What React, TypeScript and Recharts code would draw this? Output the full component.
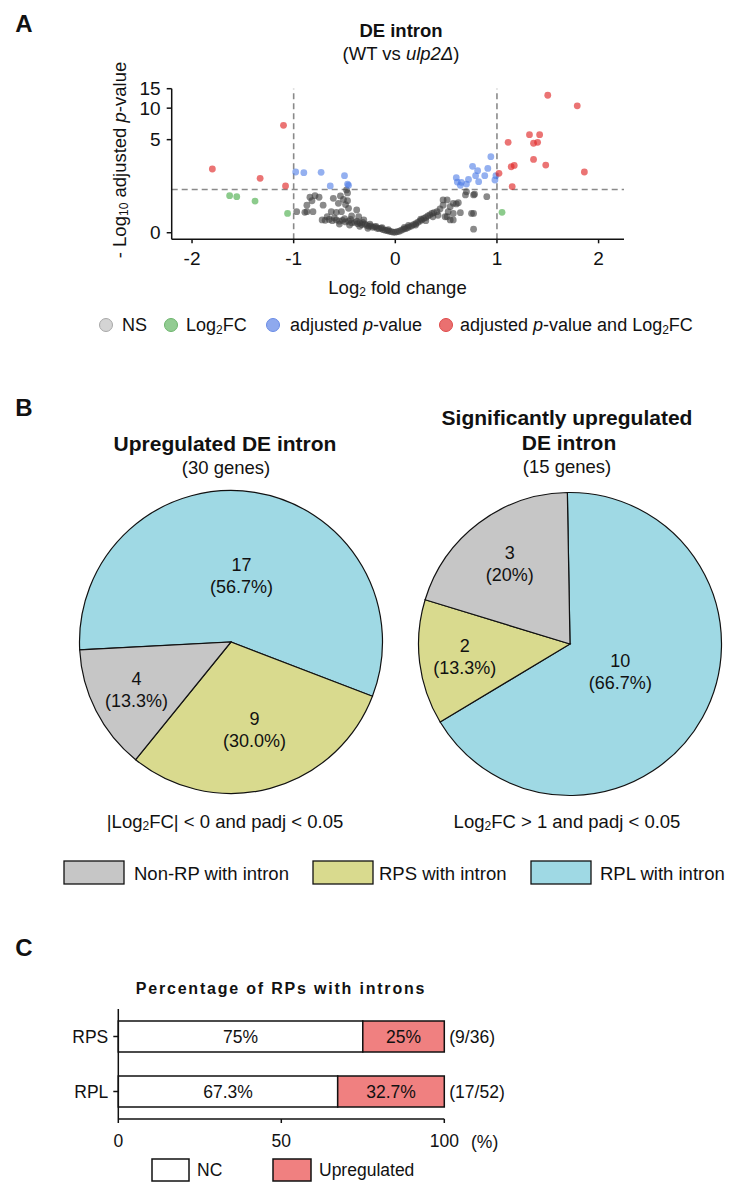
import React from 'react';
import {
  ScatterChart, Scatter, XAxis, YAxis, ReferenceLine,
  PieChart, Pie, Cell, BarChart, Bar, LabelList,
} from 'recharts';

const FONT = "'Liberation Sans', Arial, Helvetica, sans-serif";
const INK = '#111';

// ---- Panel A: volcano plot (log2 fold change, -log10 adjusted p-value) ----
const nsPoints: [number, number][] = [
  [-0.97, 0.5], [-0.89, 0.48], [-0.87, 0.5], [-0.81, 0.5], [-0.84, 0.98], [-0.79, 1.04],
  [-0.75, 0.98], [-0.82, 0.85], [-0.87, 0.7], [-0.71, 0.7], [-0.61, 0.94], [-0.54, 1.03],
  [-0.51, 0.9], [-0.56, 0.76], [-0.48, 1.28], [-0.47, 1.15], [-0.67, 0.36], [-0.63, 0.5],
  [-0.58, 0.48], [-0.53, 0.5], [-0.46, 0.6], [-0.38, 0.55], [-0.36, 0.36], [-0.43, 0.38],
  [-0.31, 0.28], [-0.72, 0.28], [-0.49, 0.72], [-0.47, 0.85],
  [-0.69, 0.27], [-0.65, 0.29], [-0.62, 0.26], [-0.58, 0.28], [-0.55, 0.25], [-0.52, 0.27],
  [-0.49, 0.23], [-0.46, 0.25], [-0.43, 0.21], [-0.4, 0.22], [-0.37, 0.19], [-0.35, 0.21],
  [-0.33, 0.17], [-0.3, 0.18], [-0.28, 0.15], [-0.26, 0.13], [-0.24, 0.14], [-0.22, 0.11],
  [-0.2, 0.12], [-0.18, 0.09], [-0.16, 0.08], [-0.14, 0.09], [-0.12, 0.06], [-0.1, 0.05],
  [-0.08, 0.04], [-0.06, 0.03], [-0.04, 0.02], [-0.02, 0.01], [0.0, 0.01], [-0.6, 0.33],
  [-0.5, 0.31], [-0.44, 0.29], [-0.38, 0.25], [-0.32, 0.22], [-0.25, 0.18], [-0.19, 0.13],
  [-0.13, 0.1], [-0.07, 0.06], [-0.55, 0.18], [-0.45, 0.16], [-0.35, 0.13], [-0.27, 0.09],
  [0.02, 0.02], [0.04, 0.03], [0.06, 0.05], [0.08, 0.07], [0.1, 0.08], [0.12, 0.1],
  [0.14, 0.12], [0.16, 0.14], [0.18, 0.17], [0.2, 0.19], [0.22, 0.22], [0.24, 0.25],
  [0.26, 0.28], [0.28, 0.32], [0.3, 0.34], [0.32, 0.38], [0.34, 0.41], [0.36, 0.45],
  [0.38, 0.47], [0.41, 0.5], [0.44, 0.58], [0.47, 0.7], [0.51, 0.88], [0.57, 0.76],
  [0.6, 0.74], [0.49, 0.36], [0.54, 0.28], [0.57, 0.45], [0.52, 0.5], [0.47, 0.88],
  [0.62, 0.78], [0.54, 0.65], [0.64, 0.47], [0.51, 0.36], [0.57, 0.28], [0.37, 0.36],
  [0.25, 0.3], [0.13, 0.15], [0.3, 0.26], [0.42, 0.4], [0.2, 0.16], [0.09, 0.11],
  [0.75, 0.45], [0.77, 0.07], [0.69, 1.07], [0.77, 1.07], [0.7, 1.2], [0.78, 1.1],
  [0.9, 1.0], [0.77, 0.45],
];
const fcPoints: [number, number][] = [
  [-1.63, 1.04], [-1.56, 1.0], [-1.38, 0.84], [-1.06, 0.45], [1.05, 0.48],
];
const padjPoints: [number, number][] = [
  [-0.98, 2.22], [-0.9, 2.18], [-0.73, 2.2], [-0.5, 2.0], [-0.64, 1.46], [-0.46, 1.49],
  [-0.47, 1.55], [0.94, 3.32], [0.76, 2.59], [0.91, 2.45], [0.81, 2.3], [0.88, 2.0],
  [0.79, 2.0], [0.72, 1.79], [0.82, 1.67], [0.6, 1.88], [0.61, 1.65], [0.65, 1.64],
  [0.64, 1.49], [0.98, 1.76], [0.99, 2.0], [0.7, 1.55],
];
const bothPoints: [number, number][] = [
  [-1.8, 2.41], [-1.33, 1.85], [-1.1, 6.9], [-1.08, 1.46],
  [1.5, 13.1], [1.79, 10.5], [1.32, 5.6], [1.42, 5.6], [1.36, 4.6], [1.4, 4.7],
  [1.11, 4.7], [1.36, 3.1], [1.48, 2.68], [1.14, 2.56], [1.17, 2.65], [1.86, 2.22],
  [1.02, 2.14], [1.15, 1.43],
];
const volcanoXTicks = [-2, -1, 0, 1, 2];
const volcanoYTicks = [0, 5, 10, 15];
const padjCutoff = 1.3; // -log10(0.05)
const fcCutoff = 1;

// ---- Panel B: pies ----
const upregNames = ['RPL with intron', 'RPS with intron', 'Non-RP with intron'];
const upregCounts = [17, 9, 4];
const upregPct = ['56.7%', '30.0%', '13.3%'];
const sigNames = ['RPL with intron', 'RPS with intron', 'Non-RP with intron'];
const sigCounts = [10, 2, 3];
const sigPct = ['66.7%', '13.3%', '20%'];
const groupColors: Record<string, string> = {
  'Non-RP with intron': '#c6c6c6',
  'RPS with intron': '#d9da8e',
  'RPL with intron': '#9fd9e4',
};
const legendOrder = ['Non-RP with intron', 'RPS with intron', 'RPL with intron'];

// ---- Panel C: stacked bars ----
const rpCategories = ['RPS', 'RPL'];
const ncPercent = [75, 67.3];
const upPercent = [25, 32.7];
const fractionLabels = ['(9/36)', '(17/52)'];
const barTicks = [0, 50, 100];

const toAxis = (v: number) => Math.log10(1 + v);
const toRows = (pts: [number, number][]) => pts.map(([x, y]) => ({ x, t: toAxis(y) }));

const dot = (fill: string, opacity: number) => (props: any) => (
  <circle cx={props.cx} cy={props.cy} r={3.4} fill={fill} fillOpacity={opacity} />
);

const pieLabel = (pct: string[]) => (props: any) => {
  const { cx, cy, midAngle, outerRadius, percent, index, value } = props;
  const r = outerRadius * (0.78 - 0.6 * percent);
  const rad = Math.PI / 180;
  const x = cx + r * Math.cos(-midAngle * rad);
  const y = cy + r * Math.sin(-midAngle * rad);
  return (
    <text x={x} y={y} textAnchor="middle" fontSize={18} fill={INK} fontFamily={FONT}>
      <tspan x={x} dy={-5}>{value}</tspan>
      <tspan x={x} dy={22}>({pct[index]})</tspan>
    </text>
  );
};

const axisStyle = { stroke: INK, strokeWidth: 1.5 };

export default function App() {
  const pie1 = upregNames.map((name, i) => ({ name, value: upregCounts[i] }));
  const pie2 = sigNames.map((name, i) => ({ name, value: sigCounts[i] }));
  const bars = rpCategories.map((name, i) => ({
    name, nc: ncPercent[i], up: upPercent[i], frac: fractionLabels[i],
  }));
  const yMin = -0.055;
  const yMax = toAxis(15);
  const tickFont = { fill: INK, fontSize: 19, fontFamily: FONT };

  return (
    <div style={{ position: 'absolute', left: 0, top: 0, width: 729, height: 1182, background: '#fff', fontFamily: FONT }}>
      {/* A: volcano */}
      <div style={{ position: 'absolute', left: 0, top: 0 }}>
        <ScatterChart width={729} height={300} margin={{ top: 88.7, right: 105, bottom: 30.7, left: 111.7 }}>
          <XAxis
            type="number" dataKey="x" domain={[-2.2, 2.25]} ticks={volcanoXTicks} allowDataOverflow interval={0}
            height={30} tickSize={4} tickMargin={8} axisLine={axisStyle} tickLine={axisStyle} tick={tickFont}
          />
          <YAxis
            type="number" dataKey="t" domain={[yMin, yMax]} ticks={volcanoYTicks.map(toAxis)} allowDataOverflow interval={0}
            tickFormatter={(v: number) => String(Math.round(10 ** v - 1))}
            width={60} tickSize={5} tickMargin={6} axisLine={axisStyle} tickLine={axisStyle} tick={tickFont}
          />
          <ReferenceLine y={toAxis(padjCutoff)} stroke="#8a8a8a" strokeWidth={1.6} strokeDasharray="6 4" />
          <ReferenceLine x={-fcCutoff} stroke="#8a8a8a" strokeWidth={1.6} strokeDasharray="6 4" />
          <ReferenceLine x={fcCutoff} stroke="#8a8a8a" strokeWidth={1.6} strokeDasharray="6 4" />
          <Scatter data={toRows(nsPoints)} shape={dot('#3c3c3c', 0.6)} isAnimationActive={false} />
          <Scatter data={toRows(fcPoints)} shape={dot('#3fa83f', 0.6)} isAnimationActive={false} />
          <Scatter data={toRows(padjPoints)} shape={dot('#4d7be6', 0.6)} isAnimationActive={false} />
          <Scatter data={toRows(bothPoints)} shape={dot('#e02a2a', 0.65)} isAnimationActive={false} />
        </ScatterChart>
      </div>

      {/* B: pies */}
      <div style={{ position: 'absolute', left: 71, top: 482 }}>
        <PieChart width={320} height={320} margin={{ top: 0, right: 0, bottom: 0, left: 0 }}>
          <Pie
            data={pie1} dataKey="value" cx={160} cy={160} outerRadius={151.5}
            startAngle={183} endAngle={-177} stroke={INK} strokeWidth={1.2}
            label={pieLabel(upregPct)} labelLine={false} isAnimationActive={false}
          >
            {pie1.map((d) => <Cell key={d.name} fill={groupColors[d.name]} />)}
          </Pie>
        </PieChart>
      </div>
      <div style={{ position: 'absolute', left: 410, top: 483.5 }}>
        <PieChart width={320} height={320} margin={{ top: 0, right: 0, bottom: 0, left: 0 }}>
          <Pie
            data={pie2} dataKey="value" cx={160} cy={160} outerRadius={151.5}
            startAngle={91} endAngle={-269} stroke={INK} strokeWidth={1.2}
            label={pieLabel(sigPct)} labelLine={false} isAnimationActive={false}
          >
            {pie2.map((d) => <Cell key={d.name} fill={groupColors[d.name]} />)}
          </Pie>
        </PieChart>
      </div>

      {/* C: stacked bars */}
      <div style={{ position: 'absolute', left: 0, top: 960 }}>
        <BarChart
          layout="vertical" width={729} height={200} data={bars} barSize={31}
          margin={{ top: 49, right: 284.7, bottom: 11, left: 58.3 }}
        >
          <XAxis
            type="number" domain={[0, 100]} ticks={barTicks} height={30} tickSize={4} tickMargin={12} interval={0}
            axisLine={axisStyle} tickLine={axisStyle} tick={{ ...tickFont, fontSize: 17.5 }}
          />
          <YAxis
            type="category" dataKey="name" width={60} tickSize={5} tickMargin={5}
            axisLine={axisStyle} tickLine={axisStyle} tick={{ ...tickFont, fontSize: 17.5 }}
          />
          <Bar dataKey="nc" stackId="a" fill="#ffffff" stroke={INK} strokeWidth={1.5} isAnimationActive={false}>
            <LabelList dataKey="nc" position="center" formatter={(v: any) => `${v}%`} fill={INK} fontSize={17.5} fontFamily={FONT} />
          </Bar>
          <Bar dataKey="up" stackId="a" fill="#f08080" stroke={INK} strokeWidth={1.5} isAnimationActive={false}>
            <LabelList dataKey="up" position="center" formatter={(v: any) => `${v}%`} fill={INK} fontSize={17.5} fontFamily={FONT} />
            <LabelList dataKey="frac" position="right" offset={5} fill={INK} fontSize={17.5} fontFamily={FONT} />
          </Bar>
        </BarChart>
      </div>

      {/* titles, axis titles, legends */}
      <svg width={729} height={1182} style={{ position: 'absolute', left: 0, top: 0, pointerEvents: 'none' }} fontFamily={FONT} fill={INK}>
        <text x={24} y={23} fontSize={24} fontWeight="bold" textAnchor="middle" dominantBaseline="central">A</text>
        <text x={401} y={30} fontSize={18.5} fontWeight="bold" textAnchor="middle" dominantBaseline="central">DE intron</text>
        <text x={401} y={53} fontSize={18.5} textAnchor="middle" dominantBaseline="central">
          (WT vs <tspan fontStyle="italic">ulp2Δ</tspan>)
        </text>
        <text transform="translate(119,160) rotate(-90)" fontSize={18.5} textAnchor="middle" dominantBaseline="central">
          - Log<tspan dy={5} fontSize={12}>10</tspan><tspan dy={-5}> adjusted </tspan><tspan fontStyle="italic">p</tspan>-value
        </text>
        <text x={397.5} y={287} fontSize={18.5} textAnchor="middle" dominantBaseline="central">
          Log<tspan dy={5} fontSize={12}>2</tspan><tspan dy={-5}> fold change</tspan>
        </text>
        {/* legend A */}
        <circle cx={106} cy={325} r={6.5} fill="#d4d4d4" stroke="#a8a8a8" />
        <text x={122} y={325} fontSize={18} dominantBaseline="central">NS</text>
        <circle cx={171} cy={325} r={6.5} fill="#92cc92" stroke="#6db56d" />
        <text x={186} y={325} fontSize={18} dominantBaseline="central">
          Log<tspan dy={5} fontSize={12}>2</tspan><tspan dy={-5}>FC</tspan>
        </text>
        <circle cx={273} cy={325} r={6.5} fill="#8ea9ee" stroke="#6a8ce6" />
        <text x={290} y={325} fontSize={18} dominantBaseline="central">
          adjusted <tspan fontStyle="italic">p</tspan>-value
        </text>
        <circle cx={446} cy={325} r={6.5} fill="#ea7070" stroke="#df4a4a" />
        <text x={460} y={325} fontSize={18} dominantBaseline="central">
          adjusted <tspan fontStyle="italic">p</tspan>-value and Log<tspan dy={5} fontSize={12}>2</tspan><tspan dy={-5}>FC</tspan>
        </text>

        {/* B */}
        <text x={24} y={407} fontSize={24} fontWeight="bold" textAnchor="middle" dominantBaseline="central">B</text>
        <text x={225} y={443} fontSize={21} fontWeight="bold" textAnchor="middle" dominantBaseline="central">Upregulated DE intron</text>
        <text x={226} y={467} fontSize={18.5} textAnchor="middle" dominantBaseline="central">(30 genes)</text>
        <text x={567} y={417} fontSize={21} fontWeight="bold" textAnchor="middle" dominantBaseline="central">Significantly upregulated</text>
        <text x={569} y={442} fontSize={21} fontWeight="bold" textAnchor="middle" dominantBaseline="central">DE intron</text>
        <text x={567} y={466} fontSize={18.5} textAnchor="middle" dominantBaseline="central">(15 genes)</text>
        <text x={225} y={821} fontSize={18.5} textAnchor="middle" dominantBaseline="central">
          |Log<tspan dy={5} fontSize={12}>2</tspan><tspan dy={-5}>FC| &lt; 0 and padj &lt; 0.05</tspan>
        </text>
        <text x={567} y={821} fontSize={18.5} textAnchor="middle" dominantBaseline="central">
          Log<tspan dy={5} fontSize={12}>2</tspan><tspan dy={-5}>FC &gt; 1 and padj &lt; 0.05</tspan>
        </text>
        {legendOrder.map((name, i) => {
          const bx = [64, 313, 531][i];
          const tx = [134, 379, 600][i];
          return (
            <g key={name}>
              <rect x={bx} y={861} width={60} height={23} fill={groupColors[name]} stroke={INK} strokeWidth={1.3} />
              <text x={tx} y={873} fontSize={18.5} dominantBaseline="central">{name}</text>
            </g>
          );
        })}

        {/* C */}
        <text x={24} y={947} fontSize={24} fontWeight="bold" textAnchor="middle" dominantBaseline="central">C</text>
        <text x={281} y={988} fontSize={16} fontWeight="bold" letterSpacing={1.8} textAnchor="middle" dominantBaseline="central">
          Percentage of RPs with introns
        </text>
        <text x={471} y={1141.5} fontSize={17.5} dominantBaseline="central">(%)</text>
        <rect x={152} y={1159} width={37} height={22} fill="#ffffff" stroke={INK} strokeWidth={1.5} />
        <text x={197} y={1170} fontSize={17.5} dominantBaseline="central">NC</text>
        <rect x={273} y={1159} width={38} height={22} fill="#f08080" stroke={INK} strokeWidth={1.5} />
        <text x={319} y={1170} fontSize={17.5} dominantBaseline="central">Upregulated</text>
      </svg>
    </div>
  );
}
